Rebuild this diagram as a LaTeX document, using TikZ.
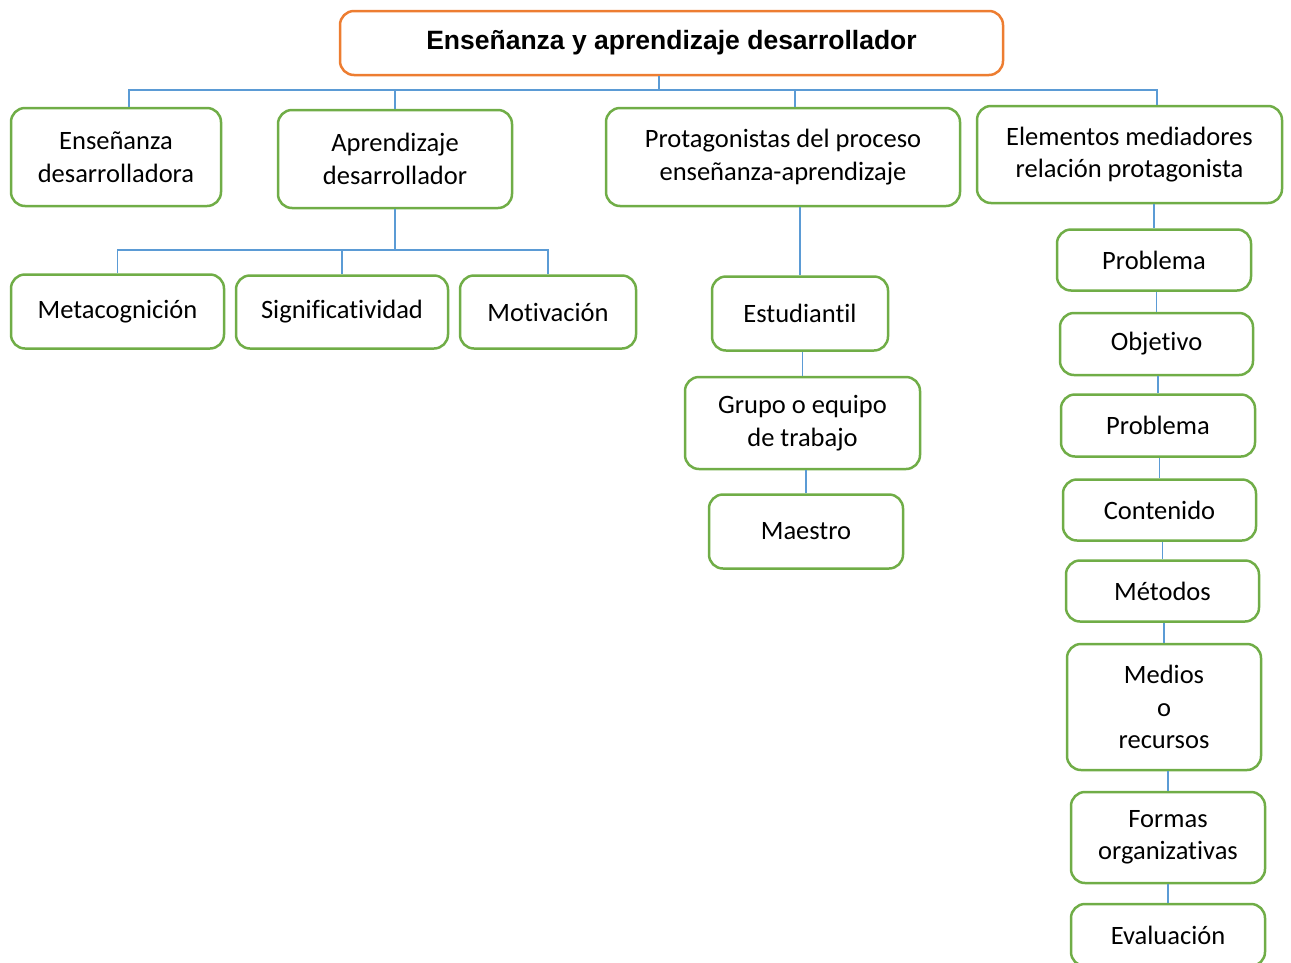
\documentclass[tikz,border=0pt]{standalone}
\usepackage{fontspec}
\setmainfont{Carlito}[Ligatures=NoCommon]
\newfontfamily\titlefont{Liberation Sans}
\usetikzlibrary{calc}

\definecolor{boxgreen}{HTML}{70AD47}
\definecolor{boxorange}{HTML}{ED7D31}
\definecolor{linkblue}{HTML}{5B9BD5}

\begin{document}
\begin{tikzpicture}[x=1pt, y=-1pt,
  every node/.style = {shape=rectangle, rounded corners=14pt, draw=boxgreen, line width=2.5pt,
    align=center, inner sep=0pt, font=\fontsize{26.5}{32.5}\selectfont},
  dims/.style 2 args = {minimum width=#1pt, minimum height=#2pt},
  link/.style = {draw=linkblue, line width=1.5pt}]

  \useasboundingbox (0,0) rectangle (1291,962);

  \node (title) [dims={663}{64}, draw=boxorange, font=\titlefont\bfseries\fontsize{26.5}{30}\selectfont]
    at (671.5,43) {Enseñanza y aprendizaje desarrollador};

  % first level
  \node (ensd) [dims={210}{98}] at (116,157) {Enseñanza\\desarrolladora};
  \node (aprd) [dims={234}{98}] at (395,159) {Aprendizaje\\desarrollador};
  \node (prot) [dims={354}{98}] at (783,157) {Protagonistas del proceso\\enseñanza-aprendizaje};
  \node (elem) [dims={305}{97}] at (1129.5,154.5) {Elementos mediadores\\relación protagonista};

  % under aprendizaje
  \node (meta) [dims={213}{74}] at (117.5,311.5) {Metacognición};
  \node (sign) [dims={212}{73}] at (342,312) {Significatividad};
  \node (moti) [dims={176}{73}] at (548,312) {Motivación};

  % under protagonistas
  \node (estu) [dims={176}{74}] at (800,313.5) {Estudiantil};
  \node (grup) [dims={235}{92}] at (802.5,423) {Grupo o equipo\\de trabajo};
  \node (maes) [dims={194}{74}] at (806,531.5) {Maestro};

  % under elementos
  \node (prob1) [dims={194}{61}] at (1154,260) {Problema};
  \node (obje) [dims={193}{62}] at (1156.5,344) {Objetivo};
  \node (prob2) [dims={194}{62}] at (1158,425.5) {Problema};
  \node (cont) [dims={193}{61}] at (1159.5,510) {Contenido};
  \node (meto) [dims={193}{61}] at (1162.5,591) {Métodos};
  \node (medi) [dims={194}{126}] at (1164,707) {Medios\\o\\recursos};
  \node (form) [dims={194}{91}] at (1168,837.5) {Formas\\organizativas};
  \node (eval) [dims={194}{62}] at (1168,935) {Evaluación};

  % buses
  \coordinate (bus) at (659,90);
  \coordinate (abus) at (aprd.south |- 0,250);

  \draw[link] (bus |- title.south) -- (bus);
  \draw[link] (bus) -| ([xshift=13pt]ensd.north);
  \draw[link] (bus) -| (aprd.north);
  \draw[link] (bus) -| ([xshift=12pt]prot.north);
  \draw[link] (bus) -| ([xshift=27.5pt]elem.north);

  \draw[link] (aprd.south) -- (abus);
  \foreach \b in {meta, sign, moti}
    \draw[link] (abus) -| (\b.north);

  \foreach \a/\b in {prot/estu, estu/grup, grup/maes,
                     elem/prob1, prob1/obje, obje/prob2, prob2/cont,
                     cont/meto, meto/medi, medi/form, form/eval}
    \draw[link] (\a.south -| \b) -- (\b.north);
\end{tikzpicture}
\end{document}
